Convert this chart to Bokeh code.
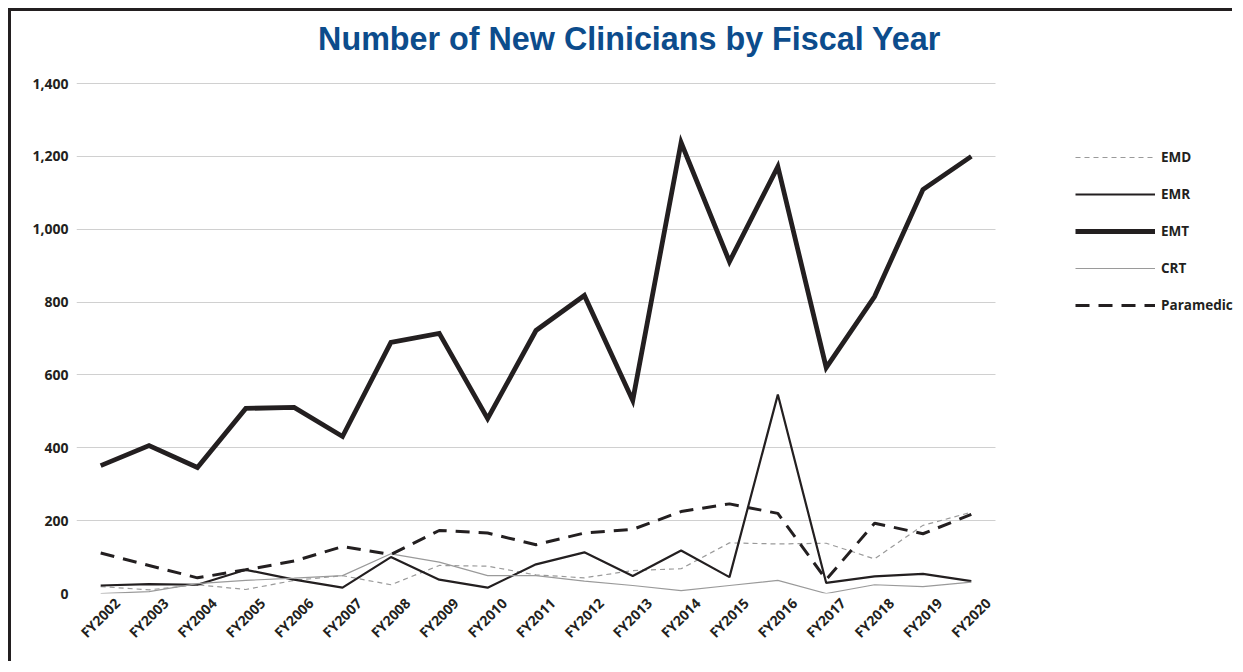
from bokeh.plotting import figure
from bokeh.models import (Legend, LegendItem, Label, FixedTicker, NumeralTickFormatter,
                          Range1d, BoxAnnotation)
from bokeh.embed import file_html
from bokeh.resources import INLINE
import math

years = ["FY2002", "FY2003", "FY2004", "FY2005", "FY2006", "FY2007", "FY2008", "FY2009", "FY2010",
         "FY2011", "FY2012", "FY2013", "FY2014", "FY2015", "FY2016", "FY2017", "FY2018", "FY2019", "FY2020"]
emd = [19, 10, 24, 11, 36, 49, 24, 77, 75, 51, 43, 63, 68, 139, 136, 138, 95, 187, 223]
emr = [22, 26, 24, 65, 38, 16, 100, 38, 16, 80, 113, 48, 118, 45, 546, 29, 47, 54, 34]
emt = [351, 406, 346, 508, 511, 431, 689, 714, 480, 722, 818, 530, 1238, 911, 1172, 620, 815, 1109, 1200]
crt = [0, 5, 27, 36, 42, 49, 109, 86, 49, 49, 34, 22, 8, 22, 36, 0, 24, 19, 31]
paramedic = [111, 77, 43, 65, 89, 129, 107, 173, 166, 134, 166, 176, 225, 246, 220, 38, 193, 164, 217]
y_ticks = [0, 200, 400, 600, 800, 1000, 1200, 1400]
series_names = ["EMD", "EMR", "EMT", "CRT", "Paramedic"]
title_text = "Number of New Clinicians by Fiscal Year"

INK = "#231f20"
GRAY = "#9a9a9a"
FONT = "Open Sans"

xi = list(range(len(years)))
n = len(years)
LABEL_SHIFT = 0.34375  # rotated tick labels are centred on their category

# canvas: 1224 x 653 at page (11, 11); frame from x=76..1235, y=11..593
PX_PER_CAT = 919 / n
PX_PER_UNIT = 510 / 1400
x_end = (1235 - 76) / PX_PER_CAT - 0.5
y_end = (593 - 11) / PX_PER_UNIT

p = figure(x_range=Range1d(-0.5, x_end), y_range=Range1d(0, y_end),
           width=1224, height=653, output_backend="svg", toolbar_location=None,
           min_border_left=65, min_border_right=0, min_border_top=0, min_border_bottom=71)
p.styles = {"margin-top": "8px", "margin-left": "8px",
            "border-top": "3px solid #231f20", "border-left": "3px solid #231f20"}
p.outline_line_color = None
p.background_fill_color = "white"
p.border_fill_color = "white"

r_emd = p.line(xi, emd, line_color=GRAY, line_width=1.2, line_dash="5 4")
r_emr = p.line(xi, emr, line_color=INK, line_width=2.2)
r_emt = p.line(xi, emt, line_color=INK, line_width=4.8, line_join="miter")
r_crt = p.line(xi, crt, line_color=GRAY, line_width=1.2)
r_par = p.line(xi, paramedic, line_color=INK, line_width=3, line_dash="14 9")

# axes
p.yaxis.ticker = FixedTicker(ticks=y_ticks)
p.yaxis.formatter = NumeralTickFormatter(format="0,0")
x_label_pos = [i + LABEL_SHIFT for i in xi]
p.xaxis.ticker = FixedTicker(ticks=x_label_pos)
p.xaxis.major_label_overrides = {pos: y for pos, y in zip(x_label_pos, years)}
for ax in (p.xaxis[0], p.yaxis[0]):
    ax.axis_line_color = None
    ax.major_tick_line_color = None
    ax.minor_tick_line_color = None
    ax.major_tick_out = 0
    ax.major_tick_in = 0
    ax.minor_tick_out = 0
    ax.minor_tick_in = 0
    ax.major_label_text_font = FONT
    ax.major_label_text_font_style = "bold"
    ax.major_label_text_font_size = "14px"
    ax.major_label_text_color = INK
p.yaxis.major_label_standoff = 8
p.xaxis.major_label_orientation = math.pi / 4
p.xaxis.major_label_standoff = 7
p.xgrid.grid_line_color = None
p.ygrid.grid_line_color = "#d0d0d0"
p.ygrid.grid_line_width = 1

# white mask so grid lines stop at the plotting area's right edge
p.add_layout(BoxAnnotation(left=n - 0.5, fill_color="white", fill_alpha=1.0,
                           line_alpha=0, level="underlay"))

# title
p.add_layout(Label(x=553, y=555, x_units="screen", y_units="screen", text=title_text,
                   text_align="center", text_baseline="alphabetic",
                   text_font="Liberation Sans", text_font_style="bold",
                   text_font_size="32.3px", text_color="#0c4c8c"))

items = [LegendItem(label=s, renderers=[r]) for s, r in zip(series_names, [r_emd, r_emr, r_emt, r_crt, r_par])]
legend = Legend(items=items, location=(999, 278), orientation="vertical",
                glyph_width=80, glyph_height=20, label_height=20, label_standoff=6,
                spacing=17, padding=0, margin=0,
                label_text_font=FONT, label_text_font_style="bold", label_text_font_size="13.5px",
                label_text_color=INK, border_line_alpha=0, background_fill_alpha=0)
p.add_layout(legend, "center")

open("out.html", "w").write(file_html(p, INLINE))
